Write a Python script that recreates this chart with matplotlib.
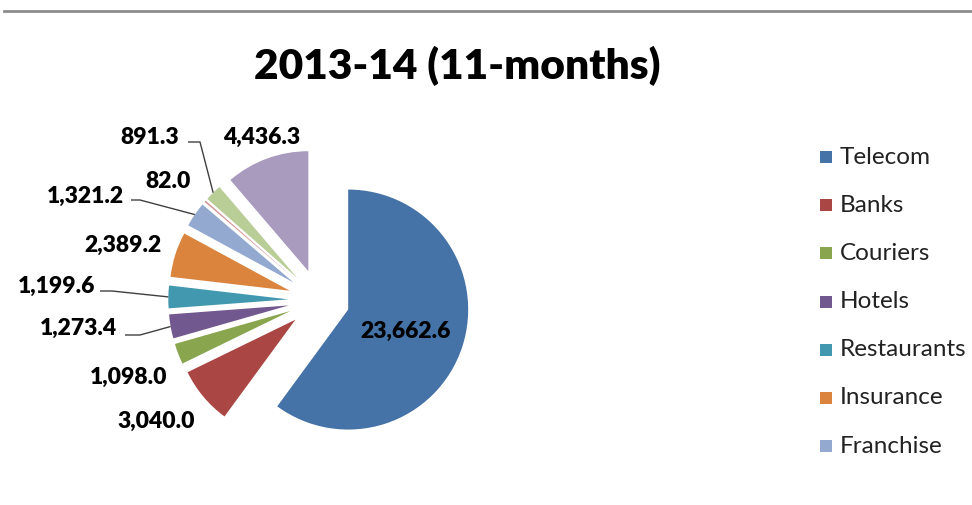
import numpy as np
import matplotlib.pyplot as plt
from matplotlib.lines import Line2D
from matplotlib.patches import Rectangle

W, H = 972, 505

# slice values, clockwise from 12 o'clock
values = [23662.6, 3040.0, 1098.0, 1273.4, 1199.6, 2389.2, 1321.2, 82.0, 891.3, 4436.3]
legend_labels = ["Telecom", "Banks", "Couriers", "Hotels", "Restaurants", "Insurance", "Franchise"]
colors = ["#4572A7", "#AA4643", "#89A54E", "#71588F", "#4198AF", "#DB843D",
          "#93A9CF", "#D19392", "#B9CD96", "#A99BBD"]

# label centres in pixel coords (x, y from top) and whether a leader line is drawn
label_pos = [(406, 331), (156, 421), (129, 377), (78, 328), (57, 286), (123, 245),
             (85, 196), (168, 182), (150, 137), (262, 137)]
leaders = {3: (125, 140, 335), 4: (100, 112, 291), 6: (131, 140, 200), 8: (188, 200, 142)}

fig = plt.figure(figsize=(W / 100, H / 100), dpi=100)
ax = fig.add_axes([0, 0, 1, 1])

cx, cy, r = 319, H - 300, 120
wedges, _ = ax.pie(values, colors=colors, startangle=90, counterclock=False,
                   radius=r, center=(cx, cy), explode=[30.7] * len(values),
                   wedgeprops=dict(linewidth=0))
ax.set_xlim(0, W)
ax.set_ylim(0, H)
ax.set_aspect("equal")
ax.axis("off")

font = "Lato"
for i, (v, (x, y)) in enumerate(zip(values, label_pos)):
    ax.text(x, H - y, f"{v:,.1f}", ha="center", va="center", fontsize=16.5,
            fontweight="heavy", family=font, color="black")
    if i in leaders:
        x0, x1, ly = leaders[i]
        w = wedges[i]
        mid = np.deg2rad((w.theta1 + w.theta2) / 2)
        ex = w.center[0] + w.r * np.cos(mid)
        ey = w.center[1] + w.r * np.sin(mid)
        ax.plot([x0, x1, ex], [H - ly, H - ly, ey], color="#404040", lw=1, solid_capstyle="butt")

ax.text(457, H - 66, "2013-14 (11-months)", ha="center", va="center", fontsize=30.5,
        fontweight="heavy", family=font)

# legend: colour square plus name
for i, name in enumerate(legend_labels):
    y = H - (157 + i * 48.2)
    ax.add_patch(Rectangle((820, y - 6), 12, 12, color=colors[i], lw=0))
    ax.text(840, y, name, ha="left", va="center", fontsize=17.5, family=font, color="#222222")

fig.add_artist(Line2D([4 / W, 1], [1 - 11 / H, 1 - 11 / H], color="#8c8c8c", lw=2))

fig.savefig("out.png", dpi=100)
